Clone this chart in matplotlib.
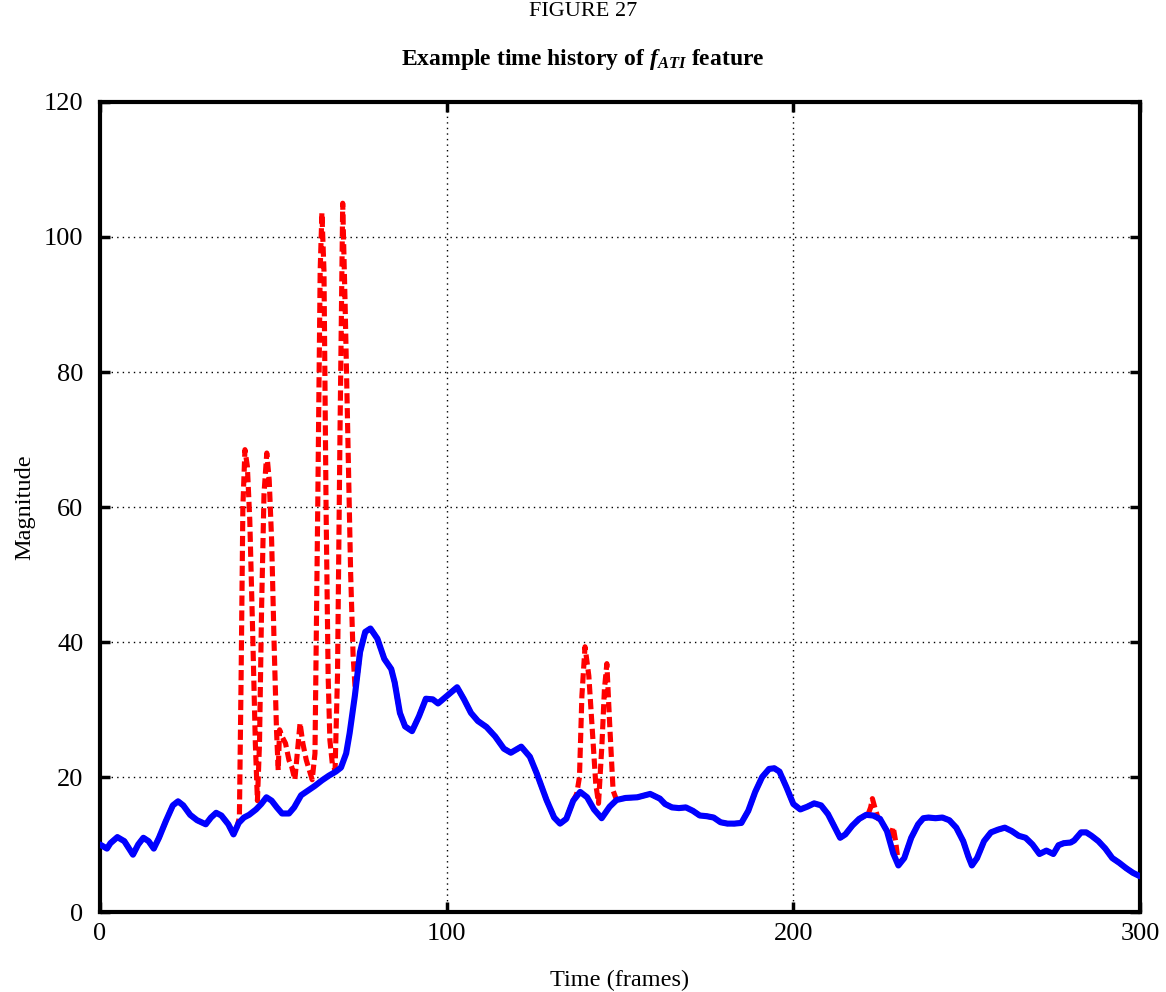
import numpy as np
import matplotlib
matplotlib.use('Agg')
import matplotlib.pyplot as plt

plt.rcParams['font.family'] = ['Liberation Serif', 'DejaVu Serif']
plt.rcParams['mathtext.fontset'] = 'custom'
plt.rcParams['mathtext.rm'] = 'Liberation Serif'
plt.rcParams['mathtext.it'] = 'Liberation Serif:italic'
plt.rcParams['mathtext.bf'] = 'Liberation Serif:bold'
plt.rcParams['mathtext.bfit'] = 'Liberation Serif:italic:bold'

# smoothed feature (blue)
blue_t = [0, 2, 3, 5, 7, 9.5, 11, 12.5, 14, 15.5, 17, 19, 21, 22.5, 24, 26, 28, 30.5, 32, 33.5,
          35, 37, 38.5, 40, 41.5, 43, 45, 46.5, 48, 49.5, 51, 52.5, 54.5, 56, 58, 60, 62, 64, 66, 68,
          69.5, 71, 72, 73.5, 75, 76.5, 78, 80, 82, 84, 85, 86.5, 88, 90, 92, 94, 96, 97.5, 100, 103,
          105, 107, 109, 111.5, 114, 116.5, 118.5, 121.5, 124, 126, 128.8, 131, 132.7, 134.5, 136.5,
          138.5, 140.5, 142.5, 144.7, 147, 149, 151.6, 155, 158.7, 161.5, 163, 165, 167, 169, 171,
          173, 175, 177, 179, 181, 183, 185, 187, 189, 191, 193, 194.5, 196, 198, 200, 202, 204, 206,
          208, 210, 212, 213.5, 215, 217, 219, 221, 223, 225, 227, 228.8, 230.3, 232, 234, 236, 237.5,
          239, 241, 243, 245, 247, 249, 250.5, 251.5, 253, 255, 257, 259, 261, 263, 265, 267, 269, 271,
          273, 275, 276.5, 278, 280, 281, 283, 284.5, 286, 288, 290, 292, 294, 296, 298, 300]
blue_v = [10.0, 9.4, 10.2, 11.1, 10.5, 8.5, 10.0, 11.0, 10.5, 9.4, 11.0, 13.5, 15.8, 16.4, 15.8, 14.4,
          13.6, 13.0, 14.0, 14.7, 14.3, 13.0, 11.5, 13.2, 14.0, 14.4, 15.2, 16.0, 17.0, 16.5, 15.5, 14.6,
          14.6, 15.5, 17.3, 18.0, 18.7, 19.5, 20.2, 20.8, 21.4, 23.5, 26.5, 32.0, 38.5, 41.5, 42.0, 40.5,
          37.5, 36.0, 34.0, 29.5, 27.5, 26.8, 29.0, 31.6, 31.5, 30.9, 32.0, 33.3, 31.5, 29.5, 28.3, 27.4,
          26.0, 24.2, 23.6, 24.5, 23.0, 20.5, 16.6, 14.0, 13.1, 13.8, 16.5, 17.8, 17.0, 15.2, 13.9, 15.6,
          16.6, 16.9, 17.0, 17.5, 16.8, 16.0, 15.5, 15.4, 15.5, 15.0, 14.3, 14.2, 14.0, 13.3, 13.1, 13.1,
          13.2, 15.0, 17.8, 20.0, 21.2, 21.3, 20.8, 18.5, 16.0, 15.2, 15.6, 16.1, 15.8, 14.5, 12.5, 11.0,
          11.5, 12.8, 13.8, 14.4, 14.3, 13.8, 12.0, 8.7, 6.9, 8.0, 11.0, 13.0, 13.9, 14.0, 13.9, 14.0,
          13.6, 12.5, 10.5, 8.2, 6.9, 8.0, 10.5, 11.8, 12.2, 12.5, 12.0, 11.3, 11.0, 10.0, 8.6, 9.1, 8.6,
          9.9, 10.2, 10.3, 10.6, 11.8, 11.8, 11.3, 10.5, 9.4, 8.0, 7.3, 6.5, 5.8, 5.3]

# raw feature (red dashed): equal to blue except in these spikes
spike1_t = [39.5, 40.2, 40.7, 41.2, 41.8, 42.5, 43.2, 44, 44.8, 45.4, 46, 46.6, 47.3, 48.1, 48.8,
            49.5, 50.2, 50.9, 51.4, 51.8, 52.5, 53.5, 54.5, 55.3, 56.2, 57, 57.7, 58.5, 59.5, 60.6,
            61.2, 62, 62.8, 63.5, 64, 64.6, 65.2, 65.8, 66.3, 67, 67.8, 68.5, 69.2, 70, 70.7, 71.5,
            72.3, 73, 73.6, 74.2]
spike1_v = [12.6, 14, 35, 60, 68.5, 66, 58, 42, 25, 16.5, 25, 45, 62, 68, 64,
            55, 40, 27, 21, 27, 26, 25, 22.5, 21.5, 19.6, 24, 28, 25, 22.5, 20.6,
            19.6, 23.5, 60, 95, 103.6, 95, 60, 35, 25.5, 22, 21, 35, 70, 105, 90, 70,
            50, 38, 33, 35]
spike2_t = [137.5, 138.3, 139, 139.9, 141, 142, 143, 143.8, 144.8, 145.5, 146.2, 147, 148]
spike2_v = [17.5, 20, 32, 39.3, 35, 27, 19, 16.1, 25, 33, 36.8, 28, 18]
spike3_t = [221.5, 222.3, 222.8, 223.5, 224.5]
spike3_v = [14.4, 15.5, 16.8, 15.5, 13.8]
spike4_t = [227.8, 228.5, 228.8, 229.5, 230.3]
spike4_v = [11.0, 12.0, 12.6, 10.5, 7.2]

spikes = [(spike1_t, spike1_v), (spike2_t, spike2_v), (spike3_t, spike3_v), (spike4_t, spike4_v)]
bt = np.array(blue_t, dtype=float)
bv = np.array(blue_v, dtype=float)
keep = np.ones(len(bt), dtype=bool)
for st, sv in spikes:
    keep &= ~((bt >= st[0]) & (bt <= st[-1]))
red_t = np.concatenate([bt[keep]] + [np.array(st, dtype=float) for st, sv in spikes])
red_v = np.concatenate([bv[keep]] + [np.array(sv, dtype=float) for st, sv in spikes])
order = np.argsort(red_t, kind='stable')
red_t, red_v = red_t[order], red_v[order]

fig = plt.figure(figsize=(11.66, 9.92), dpi=100)
ax = fig.add_axes([0.0858, 0.0806, 0.8919, 0.8166])

ax.plot(red_t, red_v, color='#ff0000', lw=3.7, linestyle=(0, (2.0, 0.9)), zorder=3)
ax.plot(bt, bv, color='#0000ff', lw=4.4, zorder=4, solid_capstyle='round', solid_joinstyle='round')

ax.set_xlim(0, 300)
ax.set_ylim(0, 120)
ax.set_xticks([0, 100, 200, 300])
ax.set_yticks([0, 20, 40, 60, 80, 100, 120])
ax.grid(True, color='black', linestyle=(0, (1, 3)), lw=1.0)
ax.tick_params(direction='in', length=7, width=2.5, top=True, right=True, labelsize=19)
ax.tick_params(axis='x', pad=8)
ax.tick_params(axis='y', pad=12)
for s in ax.spines.values():
    s.set_linewidth(3)

ax.set_xlabel('Time (frames)', fontsize=17.5, labelpad=18)
ax.set_ylabel('Magnitude', fontsize=17.5, labelpad=6)

fig.text(0.5, 0.988, 'FIGURE 27', ha='center', va='center', fontsize=16)
fig.text(0.5, 0.94, r'Example time history of $\mathbfit{f}_{\mathbfit{ATI}}$ feature',
         ha='center', va='center', fontsize=17, fontweight='bold')

fig.savefig('out.png', dpi=100)
